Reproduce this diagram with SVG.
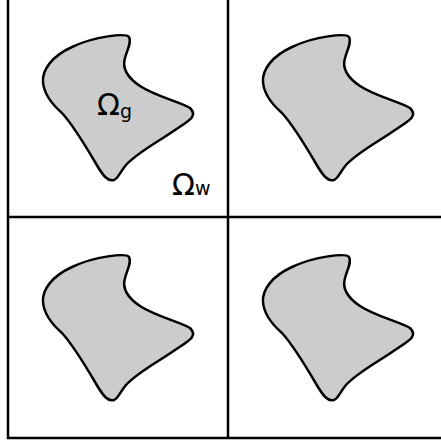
<svg xmlns="http://www.w3.org/2000/svg" width="441" height="444" viewBox="0 0 441 444">
<style>
.grid{stroke:#000;stroke-width:2.5;fill:none}
.blob{fill:#cccccc;stroke:#000;stroke-width:2.5;stroke-linejoin:round}
.lbl{font-family:"DejaVu Sans",sans-serif;font-size:30px;fill:#000}
.sub{font-size:19px}
</style>
<defs>
<path id="shape" d="M129,37 C126,33 95,36 72,47 C52,56 42,70 43,82 C44,96 54,106 62,113 C72,124 85,145 95,162 C103,176 108,182 114,180 C118,179 120,172 126,165 C138,152 158,142 175,130 C190,120 198,116 190,108 C180,102 155,96 140,86 C128,78 122,68 125,58 C127,50 132,42 129,37 Z"/>
</defs>
<rect width="441" height="444" fill="#fff"/>
<g id="grid" class="grid">
<line x1="8" y1="0" x2="8" y2="439"/>
<line x1="228" y1="0" x2="228" y2="439"/>
<line x1="7" y1="217" x2="441" y2="217"/>
<line x1="7" y1="438" x2="441" y2="438"/>
</g>
<g id="blob-tl"><use href="#shape" class="blob"/></g>
<g id="blob-tr"><use href="#shape" class="blob" transform="translate(220,0)"/></g>
<g id="blob-bl"><use href="#shape" class="blob" transform="translate(0,220)"/></g>
<g id="blob-br"><use href="#shape" class="blob" transform="translate(220,220)"/></g>
<g id="labels">
<text class="lbl" x="97" y="115">Ω<tspan class="sub" dy="3">g</tspan></text>
<text class="lbl" x="172" y="195">Ω<tspan class="sub">w</tspan></text>
</g>
</svg>
